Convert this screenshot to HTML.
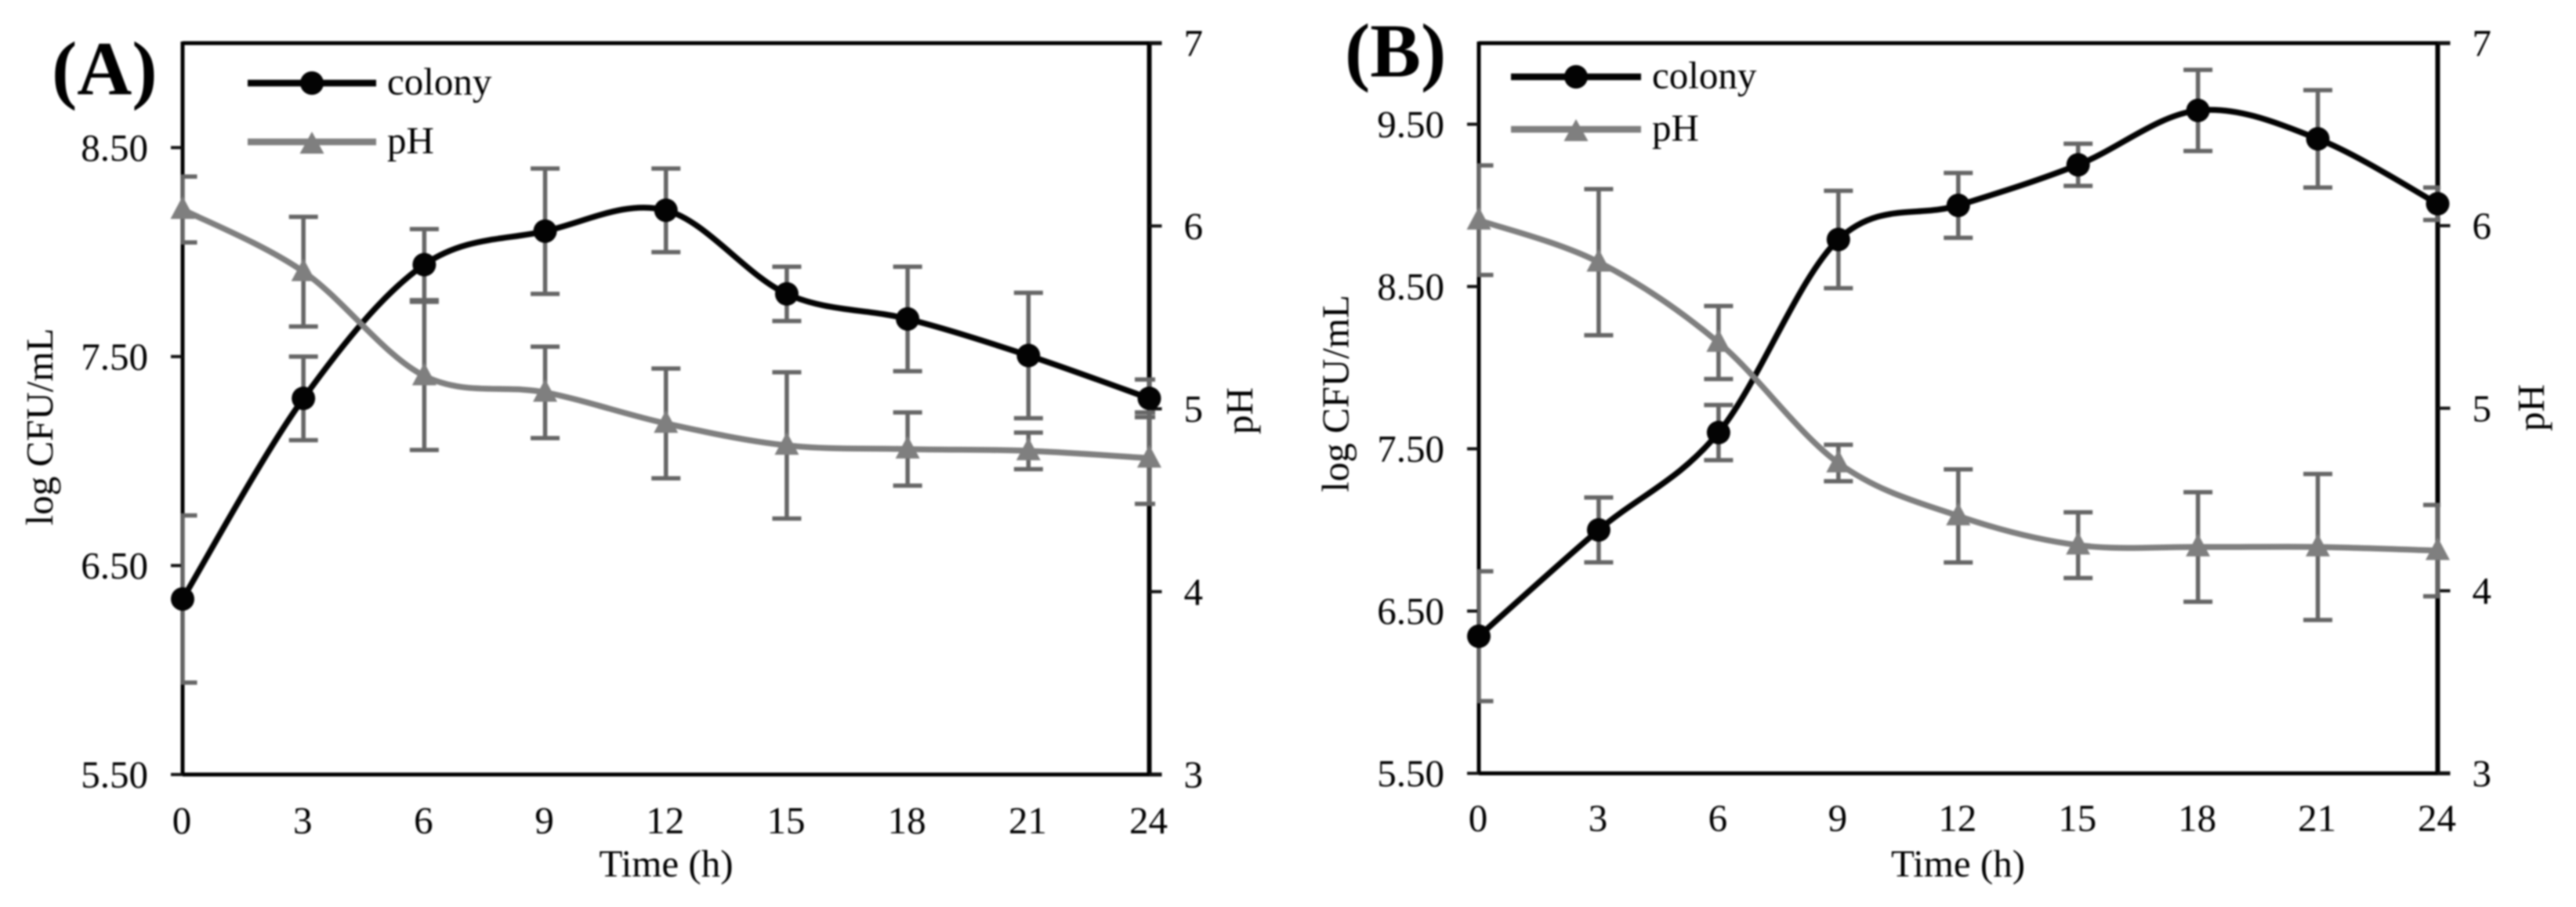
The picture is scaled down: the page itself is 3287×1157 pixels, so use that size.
<!DOCTYPE html>
<html lang="en">
<head>
<meta charset="utf-8">
<title>Colony growth and pH over time</title>
<style>
  html,body{margin:0;padding:0;background:#fff;width:3287px;height:1157px;overflow:hidden}
  svg{display:block;filter:blur(1.1px)}
  text{font-family:"Liberation Serif",serif;font-size:49px;fill:#000}
  .panel-letter{font-size:97px;font-weight:bold;fill:#000}
</style>
</head>
<body>
<svg id="figure" xmlns="http://www.w3.org/2000/svg" width="3287" height="1157" viewBox="0 0 3287 1157">
  <defs>
    <clipPath id="clip-a"><rect x="231" y="40" width="1243" height="960"/></clipPath>
    <clipPath id="clip-b"><rect x="1885" y="40" width="1229" height="960"/></clipPath>
  </defs>
  <g id="panel-a">
    <text class="panel-letter" x="66" y="120.5">(A)</text>
    <text transform="translate(67,544.5) rotate(-90)" text-anchor="middle">log CFU/mL</text>
    <text transform="translate(1598,524) rotate(-90)" text-anchor="middle">pH</text>
    <text x="850" y="1118" text-anchor="middle">Time (h)</text>
  </g>
  <g id="panel-b">
    <text class="panel-letter" x="1716" y="97.5">(B)</text>
    <text transform="translate(1720.5,502) rotate(-90)" text-anchor="middle">log CFU/mL</text>
    <text transform="translate(3246,520) rotate(-90)" text-anchor="middle">pH</text>
    <text x="2498.5" y="1118" text-anchor="middle">Time (h)</text>
  </g>
</svg>
<script>
// ---- data ----
const hours = [0, 3, 6, 9, 12, 15, 18, 21, 24];

const colonyA    = [6.34, 7.30, 7.94, 8.10, 8.20, 7.80, 7.68, 7.505, 7.30];
const colonyErrA = [0.40, 0.20, 0.17, 0.30, 0.20, 0.13, 0.25, 0.30, 0.09];
const phA        = [6.09, 5.75, 5.18, 5.09, 4.92, 4.80, 4.78, 4.77, 4.73];
const phErrA     = [0.18, 0.30, 0.405, 0.25, 0.30, 0.40, 0.20, 0.10, 0.25];

const colonyB    = [6.345, 7.00, 7.60, 8.79, 9.00, 9.25, 9.585, 9.41, 9.01];
const colonyErrB = [0.40, 0.20, 0.17, 0.30, 0.20, 0.13, 0.25, 0.30, 0.10];
const phB        = [6.03, 5.80, 5.36, 4.70, 4.41, 4.25, 4.24, 4.24, 4.22];
const phErrB     = [0.30, 0.40, 0.20, 0.10, 0.255, 0.18, 0.30, 0.40, 0.25];

const leftTicksA = ["5.50", "6.50", "7.50", "8.50"];
const leftTicksB = ["5.50", "6.50", "7.50", "8.50", "9.50"];
const rightTicks = ["3", "4", "5", "6", "7"];
const legendLabels = ["colony", "pH"];

const NS = "http://www.w3.org/2000/svg";
const BLACK = "#030303", GREY = "#7f7f7f", ERR = "#666666";

function mk(parent, tag, attrs, txt) {
  const el = document.createElementNS(NS, tag);
  for (const k in attrs) el.setAttribute(k, attrs[k]);
  if (txt !== undefined) el.textContent = txt;
  parent.appendChild(el);
  return el;
}

function smoothPath(pts) {
  let d = "M" + pts[0][0] + " " + pts[0][1];
  for (let i = 0; i < pts.length - 1; i++) {
    const p0 = pts[Math.max(i - 1, 0)], p1 = pts[i], p2 = pts[i + 1], p3 = pts[Math.min(i + 2, pts.length - 1)];
    const c1x = p1[0] + (p2[0] - p0[0]) / 6, c1y = p1[1] + (p2[1] - p0[1]) / 6;
    const c2x = p2[0] - (p3[0] - p1[0]) / 6, c2y = p2[1] - (p3[1] - p1[1]) / 6;
    d += " C" + c1x + " " + c1y + " " + c2x + " " + c2y + " " + p2[0] + " " + p2[1];
  }
  return d;
}

function triangle(x, y, up, down) {
  return (x - 15.5) + "," + (y + down) + " " + x + "," + (y - up) + " " + (x + 15.5) + "," + (y + down);
}

function drawPanel(c) {
  const g = document.getElementById(c.id);
  const x = t => c.left + (t - 0) / 24 * (c.right - c.left);
  const yL = v => c.bottom - (v - c.yMin) / (c.yMax - c.yMin) * (c.bottom - c.top);
  const yR = v => c.bottom - (v - 3) / 4 * (c.bottom - c.top);

  // axes frame
  const frame = mk(g, "path", {
    d: "M" + c.left + " " + c.top + "H" + (c.right + 16) +
       "M" + c.left + " " + c.bottom + "H" + (c.right + 16) +
       "M" + c.left + " " + (c.top - 2) + "V" + (c.bottom + 2),
    stroke: "#000", "stroke-width": 5, fill: "none"
  });
  
  
  const rightAxis = mk(g, "line", { x1: c.right, x2: c.right, y1: c.top - 2, y2: c.bottom + 2, stroke: "#000", "stroke-width": 6 });
  
  

  // left ticks and labels
  c.leftTicks.forEach(label => {
    const v = parseFloat(label);
    const tick = mk(g, "line", { x1: c.left - 15, x2: c.left, y1: yL(v), y2: yL(v), stroke: "#111", "stroke-width": 4 });
    
    
    const t = mk(g, "text", { x: c.left - 44, y: yL(v) + 16.5, "text-anchor": "end" }, label);
    
    
  });

  // right ticks and labels
  rightTicks.forEach(label => {
    const v = parseFloat(label);
    const tick = mk(g, "line", { x1: c.right, x2: c.right + 16, y1: yR(v), y2: yR(v), stroke: "#111", "stroke-width": 4 });
    
    
    const t = mk(g, "text", { x: c.right + 44, y: yR(v) + 16.5 }, label);
    
    
  });

  // x labels
  hours.forEach(h => {
    const t = mk(g, "text", { x: x(h) - 1, y: c.xLabelY, "text-anchor": "middle" }, String(h));
    
    
  });

  // error bars
  const bars = mk(g, "g", { "clip-path": "url(#" + c.clip + ")", stroke: ERR, "stroke-width": 5.5, fill: "none" });
  
  
  const addBars = (vals, errs, scale, name) => {
    hours.forEach((h, i) => {
      const px = x(h), hi = scale(vals[i] + errs[i]), lo = scale(vals[i] - errs[i]);
      const eb = mk(bars, "path", {
        d: "M" + px + " " + hi + "V" + lo +
           "M" + (px - 18.5) + " " + hi + "H" + (px + 18.5) +
           "M" + (px - 18.5) + " " + lo + "H" + (px + 18.5)
      });
      
      
    });
  };
  addBars(c.colony, c.colonyErr, yL, 'colony-error-bar');
  addBars(c.ph, c.phErr, yR, 'ph-error-bar');

  // colony series
  const colonyPts = hours.map((h, i) => [x(h), yL(c.colony[i])]);
  const colonyLine = mk(g, "path", { d: smoothPath(colonyPts), fill: "none", stroke: BLACK, "stroke-width": 7.5 });
  
  
  colonyPts.forEach(p => {
    const m = mk(g, "circle", { cx: p[0], cy: p[1], r: 15, fill: BLACK });
    
    
  });

  // pH series
  const phPts = hours.map((h, i) => [x(h), yR(c.ph[i])]);
  const phLine = mk(g, "path", { d: smoothPath(phPts), fill: "none", stroke: GREY, "stroke-width": 7.5 });
  
  
  phPts.forEach(p => {
    const m = mk(g, "polygon", { points: triangle(p[0], p[1], 17, 12), fill: GREY });
    
    
  });

  // legend
  const leg = mk(g, "g", {});
  
  
  const l = c.legend;
  const l1 = mk(leg, "line", { x1: l.x1, x2: l.x2, y1: l.y1, y2: l.y1, stroke: BLACK, "stroke-width": 8.5 });
  
  
  const l1m = mk(leg, "circle", { cx: (l.x1 + l.x2) / 2, cy: l.y1, r: 15, fill: BLACK });
  
  
  const l1t = mk(leg, "text", { x: l.x2 + 14, y: l.y1 + 14.5 }, legendLabels[0]);
  
  
  const l2 = mk(leg, "line", { x1: l.x1, x2: l.x2, y1: l.y2, y2: l.y2, stroke: GREY, "stroke-width": 8.5 });
  
  
  const l2m = mk(leg, "polygon", { points: triangle((l.x1 + l.x2) / 2, l.y2, 13, 15), fill: GREY });
  
  
  const l2t = mk(leg, "text", { x: l.x2 + 14, y: l.y2 + 14.5 }, legendLabels[1]);
  
  
}

drawPanel({
  id: "panel-a", clip: "clip-a",
  left: 233, right: 1466.5, top: 55, bottom: 988,
  yMin: 5.5, yMax: 9.0, xLabelY: 1063,
  leftTicks: leftTicksA,
  colony: colonyA, colonyErr: colonyErrA, ph: phA, phErr: phErrA,
  legend: { x1: 316, x2: 480, y1: 106, y2: 181 }
});
drawPanel({
  id: "panel-b", clip: "clip-b",
  left: 1887, right: 3110.5, top: 55, bottom: 986.5,
  yMin: 5.5, yMax: 10.0, xLabelY: 1060,
  leftTicks: leftTicksB,
  colony: colonyB, colonyErr: colonyErrB, ph: phB, phErr: phErrB,
  legend: { x1: 1928, x2: 2094, y1: 98, y2: 165 }
});
</script>
</body>
</html>
